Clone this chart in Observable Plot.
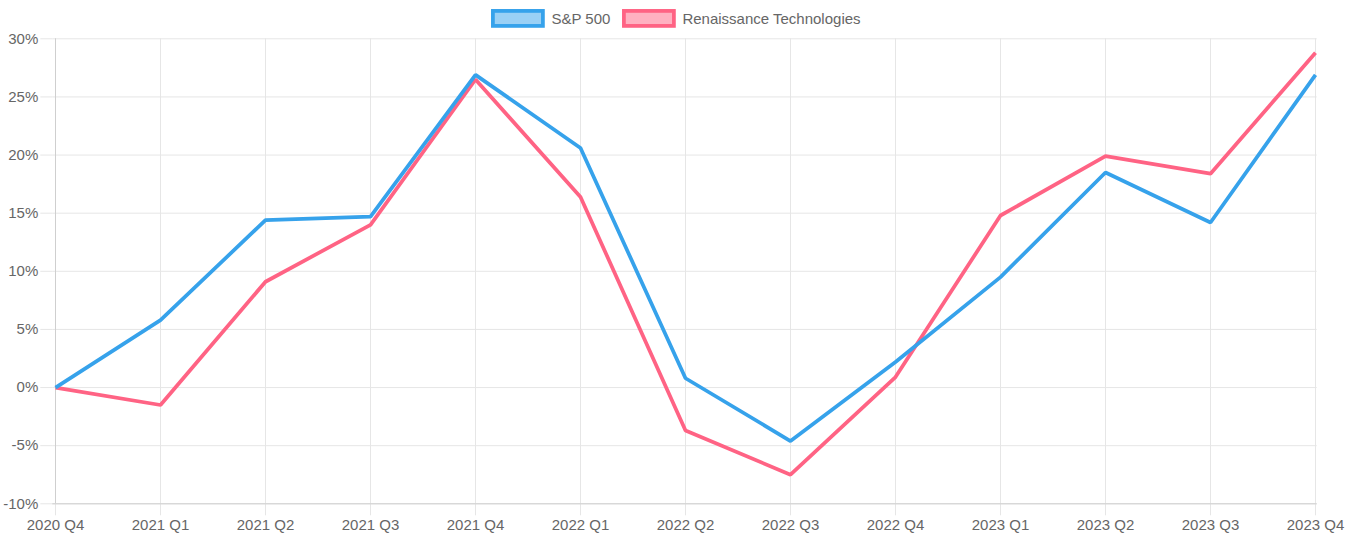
<!DOCTYPE html>
<html>
<head>
<meta charset="utf-8">
<script src="https://cdn.jsdelivr.net/npm/d3@7"></script>
<script src="https://cdn.jsdelivr.net/npm/@observablehq/plot@0.6"></script>
<style>
  html, body { margin: 0; padding: 0; background: #fff; }
  body { width: 1352px; height: 541px; overflow: hidden; font-family: "Liberation Sans", Arial, Helvetica, sans-serif; }
  #legend { height: 30px; display: flex; justify-content: center; align-items: flex-start; padding-left: 0; }
  .item { display: flex; align-items: center; margin-top: 9px; margin: 9px 6px 0 6px; color: #666; font-size: 15px; }
  .item svg { margin-right: 6px; display: block; }
</style>
</head>
<body>
<div id="legend"></div>
<div id="chart"></div>
<script>
const quarters = ["2020 Q4","2021 Q1","2021 Q2","2021 Q3","2021 Q4","2022 Q1","2022 Q2","2022 Q3","2022 Q4","2023 Q1","2023 Q2","2023 Q3","2023 Q4"];
const sp500 = [0, 5.8, 14.4, 14.7, 26.9, 20.6, 0.8, -4.6, 2.2, 9.5, 18.5, 14.2, 26.9];
const renaissance = [0, -1.5, 9.1, 14.0, 26.5, 16.4, -3.7, -7.5, 0.9, 14.8, 19.9, 18.4, 28.8];
const seriesNames = ["S&P 500", "Renaissance Technologies"];
const seriesColors = ["rgb(54,162,235)", "rgb(255,99,132)"];
const seriesFills = ["rgba(54,162,235,0.5)", "rgba(255,99,132,0.5)"];
const yTicks = [-10, -5, 0, 5, 10, 15, 20, 25, 30];

// legend
const legend = document.getElementById("legend");
seriesNames.forEach((name, i) => {
  const it = document.createElement("div");
  it.className = "item";
  it.innerHTML = `<svg width="54" height="19"><rect x="1.9" y="1.9" width="50" height="15" fill="${seriesFills[i]}" stroke="${seriesColors[i]}" stroke-width="3.75"/></svg><span></span>`;
  it.querySelector("span").textContent = name;
  legend.appendChild(it);
});

const rows = [];
quarters.forEach((q, i) => rows.push({q, v: renaissance[i], s: seriesNames[1]}));
quarters.forEach((q, i) => rows.push({q, v: sp500[i], s: seriesNames[0]}));

const grid = "#e6e6e6";
const chart = Plot.plot({
  width: 1352,
  height: 511,
  marginTop: 8.3,
  marginBottom: 37.7,
  marginLeft: 52.3,
  marginRight: 35.3,
  style: { fontFamily: '"Liberation Sans", Arial, Helvetica, sans-serif', fontSize: "15px", color: "#666", background: "#fff" },
  x: { type: "point", domain: quarters, padding: 0 },
  y: { domain: [-10, 30] },
  marks: [
    Plot.gridX(quarters, { stroke: grid, strokeOpacity: 1 }),
    Plot.gridY(yTicks, { stroke: grid, strokeOpacity: 1 }),
    Plot.axisX(quarters, { tickSize: 12, tickPadding: 4, stroke: grid, fill: "#666", label: null, fontSize: 15 }),
    Plot.axisY(yTicks, { tickSize: 12, tickPadding: 2.5, stroke: grid, fill: "#666", label: null, fontSize: 15, tickFormat: d => String(d) + "%" }),
    Plot.ruleX([quarters[0]], { stroke: "#cfcfcf" }),
    Plot.ruleY([-10], { stroke: "#cfcfcf" }),
    Plot.line(rows, { x: "q", y: "v", z: "s", stroke: d => d.s === seriesNames[0] ? seriesColors[0] : seriesColors[1], strokeWidth: 3.75, strokeLinejoin: "miter", strokeLinecap: "butt" })
  ]
});
document.getElementById("chart").appendChild(chart);
</script>
</body>
</html>
